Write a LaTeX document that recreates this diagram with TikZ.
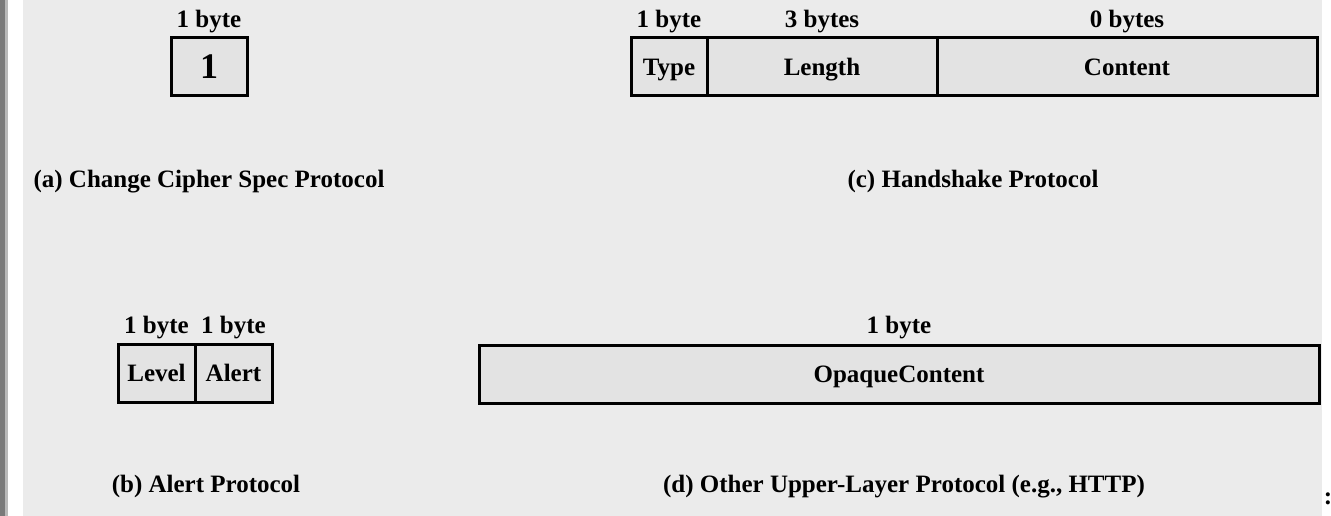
\documentclass[tikz,border=0pt]{standalone}
\usepackage{fontspec}
\setmainfont{Liberation Serif}
\usetikzlibrary{positioning}
\definecolor{paper}{HTML}{EBEBEB}
\definecolor{cell}{HTML}{E3E3E3}
\definecolor{edge}{HTML}{7A7A7A}
\begin{document}
\begin{tikzpicture}[x=1pt,y=-1pt,
	every node/.style={font=\fontsize{25}{30}\selectfont\bfseries,text height=16.5pt,text depth=0pt},
	field/.style={draw,line width=3pt,fill=cell,minimum height=58pt,inner sep=0pt,outer sep=0pt},
	size/.style={inner sep=0pt}]
	\useasboundingbox (0,0) rectangle (1331,516);
	% page background
	\fill[edge] (0,0) rectangle (5,516);
	\fill[gray!55] (5,0) rectangle (8,516);
	\fill[paper] (23,0) rectangle (1322,516);
	% (a) change cipher spec
	\node[field,minimum width=76pt,font=\fontsize{36}{40}\selectfont\bfseries,text height=24pt] (one) at (209,67) {1};
	\node[size] (onesize) at (209,19) {1 byte};
	\node (capa) at (209,179) {(a) Change Cipher Spec Protocol};
	% (c) handshake
	\node[field,minimum width=76pt] (type) at (669,67) {Type};
	\node[field,minimum width=230pt,right=0pt of type] (length) {Length};
	\node[field,minimum width=380pt,right=0pt of length] (content) {Content};
	\node[size] (typesize) at (669,19) {1 byte};
	\node[size] (lengthsize) at (822,19) {3 bytes};
	\node[size] (contentsize) at (1127,19) {0 bytes};
	\node (capc) at (973,179) {(c) Handshake Protocol};
	% (b) alert
	\node[field,minimum width=77pt] (level) at (156.5,373) {Level};
	\node[field,minimum width=77pt,right=0pt of level] (alert) {Alert};
	\node[size] (levelsize) at (156.5,325) {1 byte};
	\node[size] (alertsize) at (233.5,325) {1 byte};
	\node (capb) at (206,484) {(b) Alert Protocol};
	% (d) other upper-layer protocol
	\node[field,minimum width=840pt] (opaque) at (899,374) {OpaqueContent};
	\node[size] (opaquesize) at (899,325) {1 byte};
	\node (capd) at (904,484) {(d) Other Upper-Layer Protocol (e.g., HTTP)};
	\node[size] (colon) at (1328,496) {:};
\end{tikzpicture}
\end{document}
